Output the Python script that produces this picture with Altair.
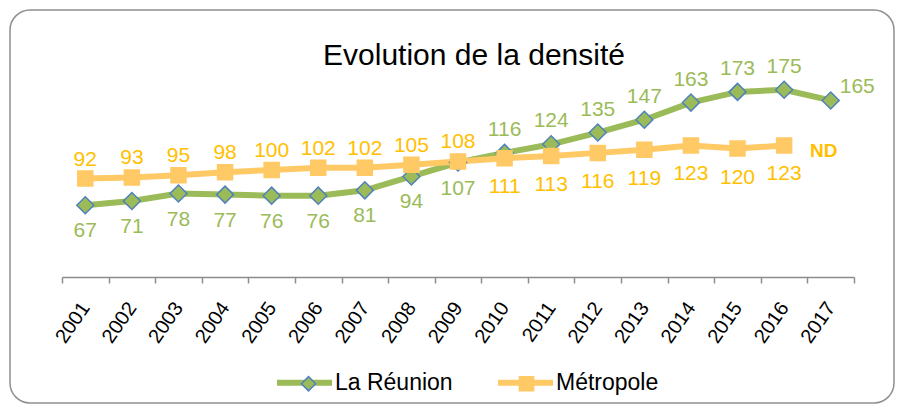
import altair as alt
import pandas as pd

years = ["2001", "2002", "2003", "2004", "2005", "2006", "2007", "2008", "2009",
         "2010", "2011", "2012", "2013", "2014", "2015", "2016", "2017"]
reunion = [67, 71, 78, 77, 76, 76, 81, 94, 107, 116, 124, 135, 147, 163, 173, 175, 165]
metropole = [92, 93, 95, 98, 100, 102, 102, 105, 108, 111, 113, 116, 119, 123, 120, 123, None]
series_names = ["La Réunion", "Métropole"]
missing_label = "ND"

GREEN = "#9BBB59"
BLUE = "#4F81BD"
ORANGE_LINE = "#FFC966"
GOLD = "#FFC000"
FONT = "Liberation Sans"

rows = []
for yr, r, m in zip(years, reunion, metropole):
    if m is None:
        rpos, mpos = "right", None
    else:
        rpos = "above" if r > m else "below"
        mpos = "above" if m > r else "below"
    rows.append(dict(year=yr, series=series_names[0], serie=series_names[0], value=r, pos=rpos))
    rows.append(dict(year=yr, series=series_names[1], serie=series_names[1], value=m, pos=mpos))
df = pd.DataFrame(rows)

last_metro = [v for v in metropole if v is not None][-1]
nd_df = pd.DataFrame([dict(year=years[-1], value=last_metro, label=missing_label)])

x_enc = alt.X(
    "year:N", sort=years,
    scale=alt.Scale(type="band", paddingInner=0, paddingOuter=0),
    axis=alt.Axis(title=None, labelAngle=-55, labelAlign="right", labelBaseline="middle",
                  labelFontSize=20, labelFont=FONT, labelColor="#000000", labelPadding=21,
                  tickBand="extent", tickSize=6, tickColor="#8c8c8c", tickWidth=1.5,
                  domainColor="#8c8c8c", domainWidth=1.5, grid=False),
)
y_enc = alt.Y("value:Q", scale=alt.Scale(domain=[0, 200]), axis=None)

base = alt.Chart(df)

frame = alt.Chart(alt.Data(values=[{"f": 1}])).mark_rect(
    fill=None, stroke="#8f8f8f", strokeWidth=1.5, cornerRadius=20
).encode(x=alt.value(-52), x2=alt.value(832), y=alt.value(-53), y2=alt.value(340))

leg_line = alt.Legend(
    orient="none", legendX=212, legendY=289, direction="horizontal", title=None,
    symbolType="stroke", symbolSize=3025, symbolStrokeWidth=6, padding=0,
    labelFontSize=23, labelFont=FONT, labelColor="#000000", labelOffset=0,
    columnPadding=33, labelLimit=300,
)
leg_pt = alt.Legend(
    orient="none", legendX=235, legendY=309, direction="horizontal", title=None,
    symbolSize=200, symbolStrokeWidth=1.5, padding=0,
    labelFontSize=23, labelFont=FONT, labelExpr="''", labelOffset=0,
    columnPadding=195, labelLimit=300,
)

lines = base.mark_line(strokeWidth=6).encode(
    x=x_enc, y=y_enc,
    color=alt.Color("series:N", scale=alt.Scale(domain=series_names, range=[GREEN, ORANGE_LINE]),
                    legend=leg_line),
)

points = base.mark_point(filled=True, opacity=1, strokeWidth=1.5).encode(
    x=x_enc, y=y_enc,
    shape=alt.Shape("serie:N", scale=alt.Scale(range=["diamond", "square"]), legend=leg_pt),
    fill=alt.Fill("serie:N", scale=alt.Scale(range=[GREEN, ORANGE_LINE]), legend=leg_pt),
    stroke=alt.Stroke("serie:N", scale=alt.Scale(range=[BLUE, ORANGE_LINE]), legend=leg_pt),
    size=alt.condition(alt.datum.serie == series_names[0], alt.value(289), alt.value(225)),
)

def labels(series, pos, dy, dx=0, align="center"):
    col = GREEN if series == series_names[0] else GOLD
    return base.transform_filter(
        (alt.datum.series == series) & (alt.datum.pos == pos)
    ).mark_text(fontSize=21, font=FONT, dy=dy, dx=dx, align=align, baseline="middle", color=col).encode(
        x=x_enc, y=y_enc, text=alt.Text("value:Q", format="d")
    )

lab_layers = [
    labels(series_names[0], "above", -23),
    labels(series_names[0], "below", 26),
    labels(series_names[0], "right", -13, dx=9, align="left"),
    labels(series_names[1], "above", -19),
    labels(series_names[1], "below", 29),
]

nd = alt.Chart(nd_df).mark_text(
    fontSize=19, font=FONT, fontWeight="bold", color=GOLD, dx=-7, dy=6, baseline="middle"
).encode(x=x_enc, y=y_enc, text="label:N")

chart = alt.layer(frame, lines, points, *lab_layers, nd).properties(
    width=792, height=214,
    padding={"left": 54, "top": 55, "right": 43, "bottom": 127},
    autosize=alt.AutoSizeParams(type="none"),
    title=alt.TitleParams("Evolution de la densité", fontSize=30, font=FONT, fontWeight="normal",
                          color="#000000", anchor="middle", dx=16, offset=-86, baseline="alphabetic"),
).configure(background="white", view=alt.ViewConfig(stroke=None))

chart.save("out.html", embed_options={"renderer": "svg", "actions": False})
